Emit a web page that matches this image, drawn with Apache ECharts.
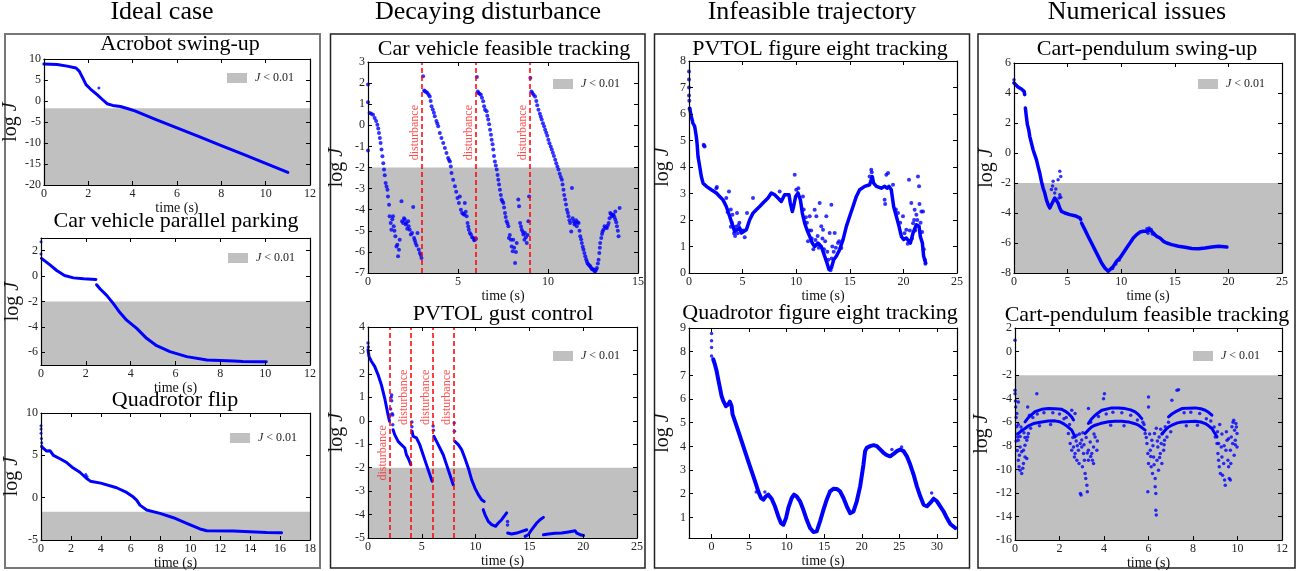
<!DOCTYPE html>
<html>
<head>
<meta charset="utf-8">
<script src="https://cdn.jsdelivr.net/npm/echarts@6/dist/echarts.min.js"></script>
<style>
    html, body { margin: 0; background: #fff; }
    #chart { width: 1301px; height: 571px; }
</style>
</head>
<body>
<div id="chart"></div>
<script>
// ---- data: [time (s), log J] ----
const acrobotCurve = [[0,8.8],[0.6,8.7],[1.05,8.3],[1.45,7.85],[1.6,7.05],[1.75,5.5],[1.9,3.9],[2.1,2.85],[2.4,1.5],[2.65,0.3],[2.85,-0.65],[3.1,-1.05],[3.45,-1.3],[3.8,-1.85],[4.1,-2.35],[5,-4.3],[6,-6.4],[7,-8.5],[8,-10.6],[9,-12.7],[10,-14.85],[11,-17.0]];
const acrobotStray = [[2.48,3.08]];

const parkingStart = [[0,2.7],[0,1.75]];
const parkingSeg1 = [[0.02,1.4],[0.1,1.35],[0.4,0.88],[0.7,0.44],[1.05,0.05],[1.45,-0.14],[1.9,-0.21],[2.45,-0.27]];
const parkingSeg2 = [[2.48,-0.68],[2.63,-1.0],[2.93,-1.52],[3.23,-2.17],[3.52,-2.87],[3.82,-3.47],[4.27,-4.12],[4.71,-4.9],[5.16,-5.48],[5.75,-5.95],[6.5,-6.34],[7.4,-6.6],[8.6,-6.68],[9.0,-6.72],[10.05,-6.75]];

const qflipStart = [[0,8.5],[0,8.1],[0,7.6],[0.03,7.0],[0.05,6.5],[0.05,6.1]];
const qflipCurve = [[0.05,6.0],[0.1,5.8],[0.38,5.5],[0.6,5.55],[0.83,5.0],[1.27,4.6],[1.72,4.15],[2.16,3.5],[2.6,3.0],[3.0,2.35],[3.3,1.95],[4.0,1.72],[5.06,1.17],[5.73,0.62],[6.18,0.07],[6.4,-0.29],[6.62,-0.88],[7.07,-1.46],[7.96,-1.86],[8.86,-2.37],[9.75,-3.03],[10.64,-3.7],[11.09,-3.9],[12.87,-3.94],[15.1,-4.1],[16.1,-4.13]];
const qflipStray = [[3.0,2.75],[3.08,2.5]];

const carDistTimes = [3, 6, 9];
const carTrackPts = [
    [0,1.93],[0,1.09],[0,-1.19],[0.09,0.58],[0.18,0.55],[0.28,0.5],[0.37,0.35],[0.45,0.2],[0.52,0.03],[0.57,-0.15],[0.61,-0.36],[0.66,-0.6],[0.7,-0.84],[0.75,-1.15],[0.8,-1.47],[0.85,-1.8],[0.89,-2.1],[0.93,-2.37],[0.98,-2.73],[1.03,-2.9],[1.08,-3.05],[1.11,-3.37],[1.17,-3.76],[1.2,-4.31],[1.26,-4.63],[1.3,-4.95],[1.35,-4.45],[1.39,-4.31],[1.43,-4.79],[1.47,-5.0],[1.52,-5.26],[1.58,-5.74],[1.63,-5.66],[1.67,-6.21],[1.72,-5.9],[1.76,-5.42],[1.86,-3.6],[1.89,-4.55],[1.95,-4.63],[2.0,-4.4],[2.04,-4.47],[2.09,-4.7],[2.13,-4.63],[2.18,-4.9],[2.23,-4.55],[2.26,-4.79],[2.32,-4.95],[2.38,-5.18],[2.45,-5.1],[2.51,-3.87],[2.56,-5.34],[2.6,-5.45],[2.64,-5.58],[2.7,-5.7],[2.75,-5.1],[2.82,-5.89],[2.88,-6.05],[2.93,-6.15],[2.97,-6.29],
    [3.06,2.32],[3.12,1.65],[3.16,1.61],[3.23,1.58],[3.3,1.53],[3.37,1.45],[3.43,1.37],[3.48,1.15],[3.53,0.9],[3.6,0.75],[3.66,0.6],[3.71,0.43],[3.8,0.2],[3.85,0.08],[3.9,-0.05],[3.99,-0.36],[4.08,-0.6],[4.18,-0.84],[4.27,-1.08],[4.36,-1.31],[4.45,-1.55],[4.5,-1.65],[4.55,-1.71],[4.6,-1.95],[4.64,-2.26],[4.73,-2.58],[4.83,-2.89],[4.9,-3.15],[4.97,-3.45],[5.05,-3.68],[5.1,-3.37],[5.16,-4.0],[5.23,-4.16],[5.3,-4.2],[5.35,-4.24],[5.38,-3.68],[5.43,-4.1],[5.48,-4.31],[5.53,-4.63],[5.57,-4.8],[5.6,-4.95],[5.66,-5.1],[5.72,-5.18],[5.78,-5.3],[5.85,-5.34],[5.9,-5.45],[5.94,-5.42],[6.0,-5.38],
    [6.05,2.29],[6.1,1.6],[6.13,1.53],[6.2,1.5],[6.27,1.45],[6.33,1.3],[6.4,1.14],[6.45,0.9],[6.5,0.74],[6.59,0.66],[6.63,0.45],[6.68,0.27],[6.73,0.05],[6.78,-0.21],[6.83,-0.45],[6.87,-0.68],[6.92,-0.9],[6.96,-1.15],[7.0,-1.45],[7.05,-1.71],[7.1,-1.9],[7.15,-2.1],[7.2,-2.35],[7.24,-2.58],[7.28,-2.8],[7.33,-3.05],[7.38,-3.3],[7.42,-3.52],[7.47,-3.6],[7.52,-3.68],[7.56,-3.9],[7.61,-4.16],[7.65,-4.35],[7.7,-4.55],[7.75,-4.65],[7.8,-4.79],[7.83,-5.34],[7.88,-5.2],[7.94,-5.42],[7.98,-5.74],[8.04,-5.97],[8.07,-5.42],[8.12,-5.8],[8.17,-6.53],[8.22,-6.0],[8.26,-5.58],[8.35,-3.52],[8.39,-3.84],[8.45,-4.63],[8.5,-4.8],[8.54,-4.95],[8.6,-5.05],[8.63,-5.18],[8.69,-5.42],[8.72,-5.1],[8.77,-5.3],[8.82,-5.58],[8.87,-5.2],[8.91,-4.55],[8.95,-3.37],
    [9.02,2.24],[9.08,1.6],[9.13,1.53],[9.2,1.45],[9.28,1.37],[9.35,1.15],[9.4,0.95],[9.47,0.74],[9.55,0.55],[9.6,0.4],[9.65,0.27],[9.72,0.1],[9.78,-0.05],[9.84,-0.21],[9.9,-0.35],[9.96,-0.5],[10.02,-0.68],[10.08,-0.85],[10.15,-1.0],[10.21,-1.15],[10.27,-1.3],[10.33,-1.45],[10.4,-1.63],[10.46,-1.8],[10.52,-1.95],[10.58,-2.1],[10.65,-2.3],[10.71,-2.45],[10.77,-2.58],[10.81,-2.8],[10.86,-3.05],[10.9,-3.3],[10.95,-3.52],[11.0,-3.75],[11.05,-4.0],[11.1,-4.15],[11.14,-4.31],[11.19,-4.5],[11.23,-4.63],[11.29,-5.03],[11.33,-2.97],[11.37,-4.4],[11.42,-4.55],[11.47,-4.7],[11.51,-4.63],[11.56,-4.5],[11.6,-4.79],[11.65,-4.6],[11.7,-4.63],[11.75,-5.0],[11.79,-5.26],[11.84,-5.4],[11.88,-5.58],[11.93,-5.75],[11.97,-5.89],[12.02,-6.05],[12.07,-6.21],[12.12,-6.35],[12.16,-6.45],[12.2,-6.55],[12.25,-6.6],[12.3,-6.65],[12.34,-6.68],[12.39,-6.75],[12.44,-6.81],[12.49,-6.83],[12.53,-6.84],[12.58,-6.9],[12.62,-6.92],[12.67,-6.85],[12.72,-6.76],[12.77,-6.55],[12.81,-6.37],[12.85,-6.05],[12.88,-5.8],[12.9,-5.58],[12.96,-5.34],[13.0,-5.15],[13.03,-5.03],[13.08,-4.95],[13.14,-4.79],[13.2,-4.85],[13.27,-4.87],[13.32,-4.75],[13.37,-4.63],[13.42,-4.4],[13.46,-4.16],[13.5,-4.2],[13.55,-4.31],[13.6,-4.25],[13.64,-4.24],[13.69,-4.35],[13.74,-4.47],[13.74,-4.08],[13.79,-4.6],[13.83,-4.79],[13.88,-5.0],[13.92,-5.26],[13.98,-3.92]
];

const pvtolDistTimes = [2, 4, 6, 8];
const pvtolGustSegs = [
    [[0,3.03],[0.09,2.75],[0.31,2.54],[0.62,2.32],[0.93,1.97],[1.24,1.54],[1.55,0.97],[1.86,0.26],[2.0,-0.02]],
    [[2.33,-0.38],[2.48,-0.59],[2.8,-0.88],[3.1,-1.02],[3.42,-1.16],[3.57,-1.45],[3.73,-1.59],[3.98,-1.87]],
    [[4.1,-0.45],[4.19,-0.66],[4.5,-0.73],[4.81,-1.02],[5.12,-1.45],[5.43,-1.87],[5.75,-2.3],[5.96,-2.58]],
    [[6.12,-0.66],[6.37,-0.88],[6.68,-1.16],[6.99,-1.45],[7.3,-1.87],[7.61,-2.3],[7.92,-2.73]],
    [[8.07,-0.88],[8.39,-1.02],[8.7,-1.23],[9.0,-1.59],[9.32,-2.01],[9.63,-2.51],[9.94,-2.87],[10.25,-3.15],[10.56,-3.37],[10.8,-3.44]],
    [[10.71,-3.79],[10.87,-4.0],[11.18,-4.29],[11.49,-4.43],[11.86,-4.5],[12.11,-4.36],[12.42,-4.22],[12.89,-3.93]],
    [[12.98,-4.79],[13.35,-4.83],[13.82,-4.79],[14.29,-4.72],[14.75,-4.65]],
    [[14.6,-4.93],[14.9,-4.86],[15.2,-4.65],[15.68,-4.36],[15.99,-4.22],[16.3,-4.12]],
    [[16.3,-4.86],[16.77,-4.83],[17.39,-4.8],[18.0,-4.79],[18.63,-4.74],[19.25,-4.69],[19.4,-4.79],[19.72,-4.86],[20.03,-4.89]]
];
const pvtolGustStray = [[0,3.32],[0.03,3.15],[2.02,0.2],[2.1,0.5],[2.15,1.0],[2.2,1.1],[2.2,0.85],[2.25,0.3],[2.3,0.25],[2.3,-0.17],[4.08,-0.05],[4.08,-0.25],[6.05,-0.22],[6.08,-0.4],[8.01,-0.1],[8.03,-0.45],[12.97,-4.3],[12.97,-4.45]];

const pvtolEightCurve = [[0.06,6.22],[0.22,5.9],[0.37,5.65],[0.53,5.53],[0.68,5.15],[0.75,4.9],[0.84,4.4],[1.0,4.02],[1.15,3.64],[1.31,3.39],[1.62,3.27],[2.08,3.14],[2.55,3.02],[2.86,2.89],[3.17,2.76],[3.48,2.51],[3.79,2.14],[4.1,1.76],[4.26,1.57],[4.42,1.63],[4.73,1.7],[4.88,1.51],[5.04,1.44],[5.35,1.63],[5.66,2.01],[5.97,2.26],[6.28,2.39],[6.59,2.51],[6.9,2.64],[7.37,2.83],[7.68,3.02],[7.99,2.95],[8.3,2.83],[8.61,2.7],[8.77,2.64],[8.92,2.95],[9.08,3.02],[9.33,2.95],[9.45,2.64],[9.64,2.32],[9.76,2.51],[9.95,2.89],[10.17,3.02],[10.39,2.76],[10.57,2.26],[10.79,1.88],[11.0,1.63],[11.26,1.38],[11.5,1.13],[11.72,1.0],[12.03,1.13],[12.34,1.0],[12.66,0.63],[12.87,0.38],[13.06,0.13],[13.28,0.19],[13.5,0.5],[13.74,0.63],[14.05,0.88],[14.37,1.26],[14.68,1.76],[14.99,2.14],[15.3,2.51],[15.61,2.89],[15.92,3.14],[16.39,3.27],[16.85,3.33],[17.1,3.64],[17.22,3.39],[17.48,3.27],[17.94,3.2],[18.25,3.27],[18.47,3.2],[18.66,3.27],[18.87,3.14],[19.09,2.51],[19.34,2.14],[19.59,1.76],[19.81,1.38],[20.02,1.26],[20.27,1.32],[20.43,1.32],[20.65,1.13],[20.9,1.51],[21.21,1.82],[21.46,1.76],[21.58,1.38],[21.77,1.13],[21.89,0.63],[22.08,0.38]];
const pvtolEightStray = [[0,7.6],[0,7.3],[0,7.0],[0,6.7],[0.03,6.5],[0.05,6.2],[1.37,4.84],[1.46,4.77],[1.4,4.8],[2.55,3.2],[2.6,3.25],[3.48,2.83],[3.73,3.08],[3.6,2.3],[3.9,2.4],[4.0,1.9],[4.2,1.5],[4.48,2.26],[4.6,1.8],[4.3,1.4],[4.9,1.6],[5.41,2.26],[5.97,2.83],[5.2,1.35],[8.46,3.08],[9.86,3.71],[10.0,3.14],[10.2,3.2],[10.63,2.89],[10.9,2.1],[11.26,2.14],[11.1,1.2],[11.4,1.6],[11.72,2.39],[11.88,2.14],[11.6,0.9],[12.19,2.64],[12.34,1.76],[12.5,1.63],[12.0,1.4],[12.81,2.14],[12.7,1.2],[13.12,1.51],[13.28,2.58],[13.37,1.0],[13.0,0.5],[13.59,1.51],[13.9,1.13],[13.5,0.8],[14.21,0.94],[13.2,0.1],[16.85,3.64],[17.0,3.9],[17.05,3.8],[18.25,2.76],[18.3,2.6],[18.41,3.71],[18.57,3.77],[19.03,3.33],[19.5,2.26],[19.96,2.14],[20.27,1.63],[20.52,3.52],[20.74,2.64],[20.9,1.88],[21.05,2.39],[21.21,2.2],[21.36,3.64],[21.46,3.27],[21.68,2.32],[21.83,2.32],[21.5,2.6],[21.3,2.0],[20.6,1.6],[21.0,2.0],[21.9,0.9],[22.0,0.5],[22.05,0.35],
    [3.9,1.75],[4.05,2.2],[4.35,1.75],[4.55,1.5],[4.7,1.9],[5.1,1.6],[10.7,2.4],[11.0,1.9],[11.2,1.6],[11.45,1.3],[11.8,1.25],[12.1,0.95],[12.45,1.3],[12.6,0.9],[12.9,0.8],[13.3,0.55],[13.7,0.95],[14.0,1.2],[19.3,2.4],[19.7,1.9],[20.1,1.5],[20.4,1.1],[20.8,1.3],[21.1,1.6],[21.6,1.9],[21.75,1.55]];

const quadEightStart = [[0,8.77],[0,8.46],[0,8.18],[0,7.82]];
const quadEightCurve = [[0.22,7.68],[0.44,7.47],[0.67,7.19],[0.89,6.83],[1.11,6.48],[1.33,6.13],[1.56,5.92],[1.91,5.7],[2.22,5.77],[2.44,5.89],[2.67,5.7],[2.8,5.35],[3.11,5.07],[3.56,4.64],[4.0,4.22],[4.44,3.8],[4.89,3.37],[5.33,2.95],[5.78,2.53],[6.22,2.1],[6.58,1.82],[6.89,1.75],[7.24,1.89],[7.56,1.96],[8.0,1.79],[8.44,1.47],[8.89,1.04],[9.24,0.76],[9.56,0.69],[9.91,0.97],[10.22,1.4],[10.67,1.82],[10.98,1.96],[11.33,1.89],[11.78,1.68],[12.22,1.32],[12.67,0.9],[13.11,0.55],[13.56,0.38],[14.0,0.41],[14.44,0.83],[14.89,1.32],[15.33,1.75],[15.78,2.1],[16.22,2.21],[16.67,2.2],[17.11,2.1],[17.56,1.82],[18.0,1.47],[18.44,1.18],[18.89,1.25],[19.33,1.68],[19.78,2.31],[20.22,3.23],[20.44,3.8],[20.67,3.94],[21.11,4.01],[21.56,4.05],[22.0,4.01],[22.44,3.87],[22.89,3.73],[23.33,3.63],[23.78,3.58],[24.22,3.68],[24.67,3.8],[25.11,3.87],[25.56,3.8],[26.0,3.58],[26.44,3.23],[26.89,2.81],[27.33,2.31],[27.78,1.89],[28.22,1.54],[28.67,1.47],[29.11,1.61],[29.56,1.79],[30.0,1.68],[30.44,1.47],[30.89,1.25],[31.33,0.97],[31.78,0.72],[32.44,0.55]];
const quadEightStray = [[5.95,2.07],[7.1,2.07],[24.0,3.87],[25.3,3.97],[29.3,2.03]];

const cartSwingSegs = [
    [[0,4.67],[0.12,4.56],[0.37,4.4],[0.69,4.27],[0.94,4.11],[1.0,3.89]],
    [[1.06,3.0],[1.15,2.44],[1.25,1.89],[1.37,1.56],[1.47,1.11],[1.62,0.67],[1.78,0.22],[1.93,-0.11],[2.09,-0.44],[2.24,-0.89],[2.4,-1.33],[2.56,-1.89],[2.71,-2.33],[2.87,-2.67],[3.02,-3.11],[3.18,-3.44],[3.34,-3.67],[3.49,-3.56],[3.65,-3.22],[3.8,-3.0],[3.96,-3.11],[4.11,-3.33],[4.27,-3.67],[4.43,-3.89],[4.74,-4.0],[5.21,-4.11],[5.67,-4.18],[6.14,-4.33],[6.23,-4.44]],
    [[6.3,-4.67],[6.61,-5.11],[6.92,-5.56],[7.23,-6.0],[7.54,-6.44],[7.86,-6.89],[8.17,-7.33],[8.48,-7.67],[8.79,-7.89],[8.95,-7.82],[9.26,-7.56],[9.57,-7.22],[9.88,-7.0],[10.19,-6.67],[10.5,-6.33],[10.82,-6.0],[11.13,-5.67],[11.44,-5.44],[11.75,-5.27],[12.06,-5.22],[12.38,-5.22],[12.69,-5.11],[13.0,-5.33],[13.31,-5.56],[13.62,-5.67],[13.94,-5.89],[14.25,-6.0],[14.71,-6.11],[15.34,-6.22],[15.96,-6.29],[16.58,-6.36],[17.21,-6.38],[17.83,-6.33],[18.45,-6.27],[19.08,-6.22],[19.86,-6.27]]
];
const cartSwingStray = [[0,4.89],[3.49,-2.44],[3.6,-2.2],[3.65,-1.89],[3.8,-2.67],[3.9,-2.4],[4.11,-1.78],[4.27,-1.22],[4.36,-1.56],[4.27,-2.78],[4.36,-2.95],[4.2,-3.0],[9.2,-7.7],[9.5,-7.4],[9.8,-7.15],[12.4,-5.05],[12.6,-5.0],[12.8,-5.1],[12.9,-5.4],[13.1,-5.45],[12.5,-5.35]];

const cartTrackArcs = [
    [[0.45,-5.97],[0.6,-5.6],[0.9,-5.1],[1.2,-4.9],[1.5,-4.84],[1.8,-4.85],[2.1,-4.9],[2.25,-5.05],[2.4,-5.25],[2.55,-5.55],[2.63,-5.8]],
    [[0.15,-6.96],[0.3,-6.7],[0.45,-6.53],[0.6,-6.3],[0.83,-6.11],[1.2,-5.97],[1.5,-5.9],[1.8,-5.88],[2.0,-5.95],[2.17,-6.11],[2.35,-6.35],[2.55,-6.67],[2.7,-7.24]],
    [[3.3,-6.1],[3.45,-5.7],[3.6,-5.4],[3.9,-4.98],[4.35,-4.78],[4.65,-4.78],[4.95,-4.84],[5.2,-4.95],[5.4,-5.12],[5.55,-5.35],[5.7,-5.69]],
    [[3.15,-6.96],[3.3,-6.65],[3.45,-6.39],[3.6,-6.25],[3.83,-6.11],[4.2,-5.95],[4.5,-5.91],[4.8,-5.92],[5.1,-5.97],[5.35,-6.1],[5.55,-6.25],[5.7,-6.45],[5.85,-6.67]],
    [[6.9,-5.54],[7.05,-5.3],[7.2,-5.12],[7.5,-4.84],[7.8,-4.8],[8.1,-4.78],[8.35,-4.85],[8.55,-4.98],[8.7,-5.15],[8.85,-5.4]],
    [[6.6,-7.0],[6.75,-6.67],[6.9,-6.4],[7.05,-6.25],[7.3,-6.05],[7.5,-5.97],[8.1,-5.91],[8.35,-5.98],[8.55,-6.11],[8.7,-6.3],[8.85,-6.53],[8.95,-6.85],[9.08,-7.24]]
];
const cartTrackNoise = [
    [0,0.95],[0,-3.28],[0,-3.57],[0.02,-4.2],[0.03,-4.7],[0.05,-5.6],[0.08,-5.26],[0.08,-6.39],[0.1,-7.0],[0.12,-7.24],[0.15,-7.52],[0.15,-9.22],[0.18,-9.78],[0.23,-10.07],[0.23,-8.09],[0.3,-8.51],[0.3,-10.35],[0.38,-9.5],[0.38,-8.37],[0.45,-8.94],[0.45,-7.95],[0.53,-9.08],[0.53,-7.52],[0.57,-7.24],[0.6,-6.96],[0.15,-4.27],[0.57,-4.7],[0.98,-3.57],[0.3,-6.7],[0.15,-6.2],[0.23,-7.2],[0.1,-8.4],[0.45,-7.3],[0.2,-8.8],[0.35,-9.9],[0.05,-7.6],[0.27,-6.4],[0.4,-6.9],[0.7,-6.5],[0.8,-5.6],[0.65,-5.4],
    [2.4,-6.96],[2.48,-7.81],[2.55,-8.37],[2.63,-8.09],[2.67,-8.94],[2.7,-8.65],[2.78,-9.22],[2.85,-8.37],[2.88,-9.5],[2.93,-7.81],[2.94,-12.04],[2.97,-12.18],[3.0,-8.09],[3.03,-9.78],[3.08,-8.65],[3.12,-9.22],[3.15,-10.35],[3.18,-10.77],[3.23,-11.34],[3.25,-11.9],[3.3,-8.37],[3.3,-9.22],[3.38,-7.67],[3.45,-8.65],[3.48,-9.22],[3.53,-8.09],[3.53,-9.5],[3.6,-7.24],[3.68,-8.37],[2.7,-5.26],[2.55,-4.98],[2.78,-7.1],[3.3,-4.84],[4.02,-3.57],[3.98,-4.0],[2.6,-7.3],[2.75,-7.6],[2.9,-7.0],[3.0,-7.5],[3.1,-7.9],[3.2,-7.3],[3.4,-8.9],[3.25,-8.6],[2.8,-8.0],[3.05,-6.9],[3.55,-7.0],[3.7,-7.6],[2.3,-5.6],[2.45,-6.2],[3.4,-6.0],[3.75,-5.5],
    [5.85,-6.96],[5.93,-7.81],[5.97,-8.65],[6.0,-9.5],[5.97,-11.9],[6.0,-3.85],[6.08,-8.37],[6.12,-9.78],[6.15,-7.52],[6.18,-10.35],[6.23,-8.94],[6.27,-6.96],[6.3,-10.77],[6.3,-11.48],[6.33,-12.04],[6.33,-13.46],[6.35,-13.88],[6.38,-9.22],[6.42,-8.09],[6.45,-10.07],[6.48,-7.24],[6.53,-8.65],[6.57,-7.81],[6.6,-9.5],[6.63,-6.96],[6.68,-8.37],[6.72,-7.52],[6.75,-6.39],[6.83,-7.24],[7.05,-4.13],[7.28,-3.28],[7.35,-3.23],[6.0,-4.7],[5.8,-6.2],[5.9,-7.3],[6.05,-7.0],[6.2,-8.0],[6.25,-9.6],[6.4,-7.6],[6.5,-9.0],[6.55,-6.6],[6.7,-7.9],[6.1,-8.9],[5.75,-6.0],[6.9,-6.0],[7.0,-6.8],[6.35,-6.5],
    [9.0,-7.24],[9.08,-7.81],[9.12,-8.65],[9.15,-9.22],[9.18,-9.78],[9.23,-10.35],[9.27,-8.09],[9.3,-8.94],[9.33,-10.49],[9.38,-9.5],[9.42,-10.91],[9.45,-11.34],[9.48,-8.37],[9.53,-7.52],[9.57,-9.22],[9.6,-9.78],[9.63,-10.77],[9.68,-10.91],[9.68,-8.37],[9.72,-7.24],[9.75,-6.39],[9.78,-7.81],[9.83,-5.83],[9.87,-6.67],[9.9,-7.52],[9.93,-6.11],[9.98,-6.96],[9.98,-8.09],[9.15,-7.81],[9.3,-7.0],[8.95,-6.4],[9.1,-6.8],[9.4,-8.0],[9.5,-6.8],[9.6,-7.4],[9.7,-9.5],[9.85,-8.8],[9.95,-6.4],[9.2,-6.2],[8.8,-5.9],[9.8,-6.0],[9.9,-7.9],
    [1.0,-5.3],[1.3,-5.2],[1.7,-5.2],[2.0,-5.3],[1.1,-6.3],[1.6,-6.2],[4.1,-5.3],[4.4,-5.15],[4.8,-5.2],[5.2,-5.4],[4.3,-6.25],[4.9,-6.3],[7.6,-5.2],[7.9,-5.15],[8.3,-5.25],[7.7,-6.3],[8.2,-6.25],[2.2,-5.7],[5.5,-5.8],[8.6,-5.7]
];

// ---- layout ----
const FONT = "'Liberation Serif', 'DejaVu Serif', serif";
const BLUE = '#0000ff';
const GRAY = '#c0c0c0';
const LEG = 'J < 0.01';

const grid = [], xAxis = [], yAxis = [], series = [], legend = [], graphic = [];

const headers = [['Ideal case', 162, 12], ['Decaying disturbance', 488, 12], ['Infeasible trajectory', 812, 12], ['Numerical issues', 1137, 12]];
const boxes = [[5, 34, 315, 534], [330.5, 34, 314.5, 534], [654.5, 34, 315, 534], [978, 34, 317, 534]];

const axisBase = (gi, position, r, showLabel) => {
    const ax = {
        type: 'value', gridIndex: gi, position, min: r.min, max: r.max, z: 10,
        axisLine: {show: true, onZero: false, lineStyle: {color: '#000', width: 1.2}},
        axisTick: {show: true, inside: true, length: 4, lineStyle: {color: '#000', width: 1}},
        axisLabel: {show: showLabel, color: '#222', fontFamily: FONT, fontSize: 12, margin: 3},
        splitLine: {show: false},
    };
    if (r.ticks) {
        ax.axisTick.customValues = r.ticks;
        ax.axisLabel.customValues = r.ticks;
    } else {
        ax.interval = r.interval;
    }
    return ax;
};

function addPanel(p) {
    const gi = grid.length;
    const [left, top, width, height] = p.rect;
    grid.push({left, top, width, height});

    const xb = axisBase(gi, 'bottom', p.x, true);
    Object.assign(xb, {
        name: 'time (s)', nameLocation: 'middle', nameGap: p.xGap,
        nameTextStyle: {fontFamily: FONT, fontSize: 14, color: '#111'},
    });
    xAxis.push(xb, axisBase(gi, 'top', p.x, false));

    const yl = axisBase(gi, 'left', p.y, true);
    Object.assign(yl, {
        name: '{n|log }{j|J}', nameLocation: 'middle', nameGap: p.yGap,
        nameTextStyle: {
            color: '#111',
            rich: {
                n: {fontFamily: FONT, fontSize: 20, color: '#111'},
                j: {fontFamily: FONT, fontSize: 20, fontStyle: 'italic', color: '#111'},
            },
        },
    });
    yAxis.push(yl, axisBase(gi, 'right', p.y, false));

    const ax = {xAxisIndex: 2 * gi, yAxisIndex: 2 * gi, animation: false, silent: true};

    if (p.thr !== undefined) {
        series.push({
            ...ax, type: 'line', name: LEG, z: 1, symbol: 'none',
            data: [[p.x.min, p.thr], [p.x.max, p.thr]],
            color: GRAY, lineStyle: {width: 0},
            areaStyle: {color: GRAY, opacity: 1, origin: 'start'},
        });
        legend.push({
            left: p.legend[0], top: p.legend[1], padding: 0, icon: 'rect',
            itemWidth: 20, itemHeight: 10, selectedMode: false,
            data: [{name: LEG, itemStyle: {color: GRAY}}],
            formatter: () => '{j|J} < 0.01',
            textStyle: {
                fontFamily: FONT, fontSize: 12, color: '#222', padding: [0, 0, 0, 3],
                rich: {j: {fontFamily: FONT, fontSize: 12, fontStyle: 'italic', color: '#222'}},
            },
        });
    }

    (p.lines || []).forEach(d => series.push({
        ...ax, type: 'line', data: d, symbol: 'none', z: 3,
        lineStyle: {color: BLUE, width: p.lw || 3, cap: 'round', join: 'round'},
    }));
    (p.dots || []).forEach(d => series.push({
        ...ax, type: 'scatter', data: d, symbolSize: p.ds || 3.5, z: 3,
        itemStyle: {color: BLUE},
    }));

    if (p.dist) {
        series.push({
            ...ax, type: 'scatter', z: 4, symbolSize: 1,
            itemStyle: {color: 'rgba(0,0,0,0)'},
            data: p.dist.times.map((t, i) => [t - 0.08, p.dist.labelY[i]]),
            label: {
                show: true, formatter: 'disturbance', position: 'inside', rotate: 90,
                align: 'center', verticalAlign: 'bottom',
                color: '#ff2020', fontFamily: FONT, fontSize: 12,
            },
            markLine: {
                symbol: ['none', 'none'], silent: true, animation: false,
                label: {show: false},
                lineStyle: {color: '#ff0000', type: [5, 3], width: 1.5},
                data: p.dist.times.map(t => ({xAxis: t})),
            },
        });
    }

    graphic.push({
        type: 'text', x: p.title[1], y: p.title[2], z: 20,
        style: {text: p.title[0], font: '22px ' + FONT, fill: '#000', align: 'center', verticalAlign: 'middle'},
    });
}

addPanel({
    rect: [41, 59, 269, 126], x: {min: 0, max: 12, interval: 2}, y: {min: -20, max: 10, interval: 5},
    thr: -1.7, legend: [227, 72], xGap: 5, yGap: 18, title: ['Acrobot swing-up', 180, 44],
    lines: [acrobotCurve], dots: [acrobotStray], ds: 3,
});
addPanel({
    rect: [41, 238, 269, 127], x: {min: 0, max: 12, interval: 2}, y: {min: -7, max: 3, ticks: [-6, -4, -2, 0, 2]},
    thr: -2, legend: [228, 252], xGap: 4, yGap: 18, title: ['Car vehicle parallel parking', 176, 221],
    lines: [parkingSeg1, parkingSeg2], dots: [parkingStart], ds: 3,
});
addPanel({
    rect: [41, 413, 269, 127], x: {min: 0, max: 18, interval: 2}, y: {min: -5, max: 10, interval: 5},
    thr: -1.65, legend: [230, 432], xGap: 9, yGap: 18, title: ['Quadrotor flip', 175, 400],
    lines: [qflipCurve], dots: [qflipStart, qflipStray], ds: 3,
});
addPanel({
    rect: [368, 62, 270, 211], x: {min: 0, max: 15, interval: 5}, y: {min: -7, max: 3, interval: 1},
    thr: -2, legend: [553, 78], xGap: 8, yGap: 21, title: ['Car vehicle feasible tracking', 504, 49],
    dots: [carTrackPts], ds: 4,
    dist: {times: carDistTimes, labelY: [-0.35, -0.35, -0.35]},
});
addPanel({
    rect: [368, 327, 269, 211], x: {min: 0, max: 25, interval: 5}, y: {min: -5, max: 4, interval: 1},
    thr: -2, legend: [553, 350], xGap: 11, yGap: 21, title: ['PVTOL gust control', 503, 314],
    lines: pvtolGustSegs, dots: [pvtolGustStray], ds: 3.5, lw: 3,
    dist: {times: pvtolDistTimes, labelY: [-1.37, 1.0, 1.0, 1.0]},
});
addPanel({
    rect: [689, 61, 268, 212], x: {min: 0, max: 25, interval: 5}, y: {min: 0, max: 8, interval: 1},
    xGap: 6, yGap: 16, title: ['PVTOL figure eight tracking', 820, 49],
    lines: [pvtolEightCurve], dots: [pvtolEightStray], lw: 3.5, ds: 4,
});
addPanel({
    rect: [689, 328, 268, 210], x: {min: -3, max: 32.67, ticks: [0, 5, 10, 15, 20, 25, 30]},
    y: {min: 0.13, max: 9, ticks: [1, 2, 3, 4, 5, 6, 7, 8, 9]},
    xGap: 10, yGap: 16, title: ['Quadrotor figure eight tracking', 820, 313],
    lines: [quadEightCurve], dots: [quadEightStart, quadEightStray], lw: 4, ds: 3.5,
});
addPanel({
    rect: [1014, 63, 268, 210], x: {min: 0, max: 25, interval: 5}, y: {min: -8, max: 6, interval: 2},
    thr: -2, legend: [1198, 78], xGap: 6, yGap: 16, title: ['Cart-pendulum swing-up', 1147, 49],
    lines: cartSwingSegs, dots: [cartSwingStray], lw: 3.5, ds: 3.5,
});
addPanel({
    rect: [1015, 328, 267, 213], x: {min: 0, max: 12, interval: 2}, y: {min: -16, max: 2, interval: 2},
    thr: -2, legend: [1193, 350], xGap: 8, yGap: 16, title: ['Cart-pendulum feasible tracking', 1147, 315],
    lines: cartTrackArcs, dots: [cartTrackNoise], lw: 3, ds: 3.5,
});

headers.forEach(([text, x, y]) => graphic.push({
    type: 'text', x, y, z: 20,
    style: {text, font: '26px ' + FONT, fill: '#000', align: 'center', verticalAlign: 'middle'},
}));
boxes.forEach(([x, y, w, h], i) => graphic.push({
    type: 'rect', z: 0, silent: true,
    shape: {x, y, width: w, height: h},
    style: {fill: 'none', stroke: i === 0 ? '#777' : '#222', lineWidth: i === 0 ? 2 : 1.5},
}));

const chart = echarts.init(document.getElementById('chart'));
chart.setOption({
    animation: false,
    backgroundColor: '#fff',
    grid, xAxis, yAxis, series, legend, graphic,
});
</script>
</body>
</html>
